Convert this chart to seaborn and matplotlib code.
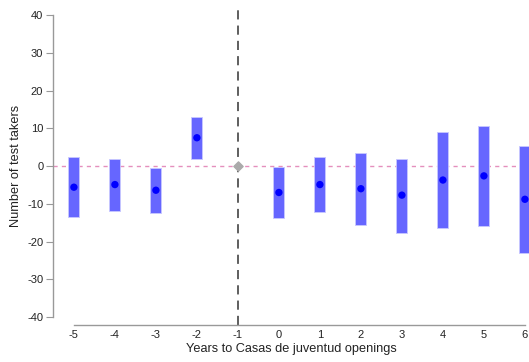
import numpy as np
import pandas as pd
import matplotlib
matplotlib.use("Agg")
import matplotlib.pyplot as plt
import seaborn as sns

# Event-study estimates with confidence bands
years = [-5, -4, -3, -2, 0, 1, 2, 3, 4, 5, 6]
estimate = [-5.6, -4.9, -6.4, 7.5, -7.0, -4.9, -6.0, -7.7, -3.7, -2.6, -8.8]
ci_low = [-13.4, -11.8, -12.3, 1.9, -13.7, -12.1, -15.5, -17.6, -16.5, -16.0, -23.0]
ci_high = [2.3, 2.0, -0.4, 12.9, -0.2, 2.4, 3.4, 2.0, 9.1, 10.7, 5.3]
ref_year = -1
tick_years = [-5, -4, -3, -2, -1, 0, 1, 2, 3, 4, 5, 6]
y_ticks = [-40, -30, -20, -10, 0, 10, 20, 30, 40]

df = pd.DataFrame({"year": years, "est": estimate, "lo": ci_low, "hi": ci_high})

sns.set_style("white")
plt.rcParams["font.family"] = ["Liberation Sans", "DejaVu Sans"]
plt.rcParams["axes.unicode_minus"] = False

fig = plt.figure(figsize=(5.29, 3.62), dpi=100)
ax = fig.add_axes([53 / 529, 1 - 325 / 362, 1 - 53 / 529, (325 - 6) / 362])

# confidence bands as floating bars
ax.bar(df["year"], df["hi"] - df["lo"], bottom=df["lo"], width=0.27,
       color="#6666ff", edgecolor="#c8c8ff", linewidth=0.6, zorder=2)

sns.scatterplot(data=df, x="year", y="est", color="#0000ff", s=28,
                edgecolor="none", ax=ax, zorder=3)

ax.axhline(0, color="#e58fbd", linestyle=(0, (3, 3)), linewidth=1, zorder=1)
ax.axvline(ref_year, color="#333333", linestyle=(0, (6, 4)), linewidth=1.1, zorder=1)
ax.scatter([ref_year], [0], marker="D", s=22, color="#aaaaaa", zorder=4)

ax.set_xlim(-5.51, 6.1)
ax.set_ylim(-42.1, 42.4)
ax.set_xticks(tick_years)
ax.set_yticks(y_ticks)

for side in ["top", "right"]:
    ax.spines[side].set_visible(False)
ax.spines["left"].set_bounds(-40, 40)
ax.spines["bottom"].set_bounds(-5, 6)
for side in ["left", "bottom"]:
    ax.spines[side].set_color("#999999")
    ax.spines[side].set_linewidth(1)

ax.tick_params(axis="y", left=True, length=5, color="#999999", labelsize=8,
               labelcolor="#222222", pad=2)
ax.tick_params(axis="x", bottom=False, labelsize=8, labelcolor="#222222", pad=0)

ax.set_xlabel("Years to Casas de juventud openings", fontsize=9.2, color="#222222", labelpad=2)
ax.set_ylabel("Number of test takers", fontsize=9.2, color="#222222", labelpad=4)

fig.savefig("out.png", dpi=100)
